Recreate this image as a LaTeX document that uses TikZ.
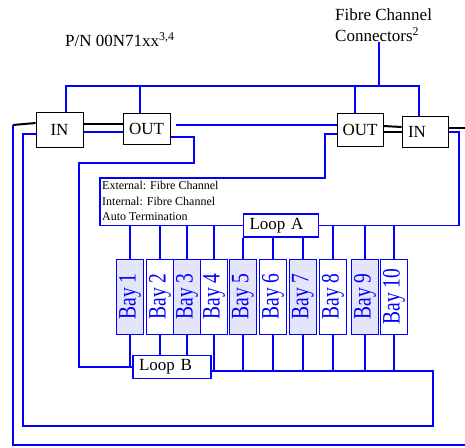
\documentclass[tikz,border=0pt]{standalone}
\usepackage{fontspec}
\setmainfont{Liberation Serif}
\usepackage{graphicx}
\usepackage{tikz}
\pgfdeclarelayer{background}
\pgfsetlayers{background,main}
\definecolor{fcblue}{RGB}{0,0,255}
\definecolor{baylight}{RGB}{228,228,250}
\newcommand{\baytext}[1]{\rotatebox{90}{\scalebox{0.78}[1]{\fontsize{25}{25}\selectfont Bay #1}}}

\begin{document}
\begin{tikzpicture}[x=1pt, y=-1pt,
  every node/.style={font=\fontsize{17}{20}\selectfont},
  port/.style={draw, fill=white, line width=0.8pt, inner sep=0pt},
  loopbox/.style={draw=fcblue, fill=white, line width=1.8pt, inner ysep=0pt, inner xsep=6pt, minimum height=23, align=left},
  bay/.style={draw=fcblue, line width=0.9pt, inner sep=0pt, minimum width=26.5, minimum height=75, text=fcblue},
  bus/.style={fcblue, line width=1.6pt},
  wire/.style={black, line width=2.6pt}]
  \useasboundingbox (0,0) rectangle (465,447);
  % labels
  \node[anchor=north west, inner sep=0pt] (pn) at (65,32) {P/N 00N71xx\textsuperscript{3,4}};
  \node[anchor=north west, inner sep=0pt, align=left, font=\fontsize{17}{21}\selectfont] (fcc) at (335,9) {Fibre Channel\\Connectors\textsuperscript{2}};
  \node[anchor=north west, inner sep=0pt, align=left, font=\fontsize{12}{15.5}\selectfont] (ext) at (102,181) {External: Fibre Channel\\Internal: Fibre Channel\\Auto Termination};
  % connector boxes
  \node[port, minimum width=47, minimum height=35] (inL) at (59.5,129.5) {IN};
  \node[port, minimum width=47, minimum height=31] (outL) at (146.5,128.5) {OUT};
  \node[port, minimum width=46, minimum height=33] (outR) at (360,129.5) {OUT};
  \node[port, minimum width=46, minimum height=31, text width=34, inner xsep=6pt, align=left] (inR) at (425,131.5) {IN};
  % loops
  \node[loopbox, text width=63] (loopA) at (281,225.5) {Loop A};
  \node[loopbox, text width=66] (loopB) at (172,367) {Loop B};
  % bays
  \foreach \n/\x/\c in {1/130/baylight, 2/160/white, 3/187/baylight, 4/214/white, 5/243/baylight,
                        6/273/white, 7/303/baylight, 8/333/white, 9/365/baylight, 10/394/white}
    \node[bay, fill=\c] (bay\n) at (\x,296.5) {\baytext{\n}};

  \coordinate (fcbus) at (379,86);
  \coordinate (outerL) at (13,125);
  \coordinate (edgeB) at (465,445);
  \coordinate (edgeR) at (465,128);
  \coordinate (bLine) at (433,371);

  \begin{pgfonlayer}{background}
  % top bus
  \draw[bus] (fcbus |- fcc.south) -- (fcbus);
  \draw[bus] ([xshift=6.5]inL.north) |- (fcbus) -| ([xshift=-6]inR.north);
  \draw[bus] ([xshift=-6.5]outL.north) -- ++(0,-27);
  \draw[bus] ([xshift=-5]outR.north) -- ++(0,-27);
  % left pair and outer loop
  \draw[wire] ([yshift=5.5]inL.east) -- ([yshift=4.5]outL.west);
  \draw[bus] ([yshift=-2.5]inL.east) -- ([yshift=-3.5]outL.west);
  \draw[wire, line width=2pt] ([yshift=6.5]inL.west) -- (outerL);
  \draw[bus, line width=2pt] (outerL) |- (edgeB);
  \draw[bus] ([yshift=-4.5]inL.west) -| (23,426) -| (bLine) -- ([yshift=-4]loopB.east);
  \draw[bus] ([yshift=-8.5]outL.east) -| (194,163) -| (79,367) -- (loopB.west);
  % OUT to OUT
  \draw[bus, line width=2pt] ([xshift=6pt, yshift=3.5pt]outL.east) -- ([yshift=4.5]outR.west);
  \draw[bus] ([yshift=-4.5]outR.west) -| (325,178) -| (100,225.5) -- (loopA.west);
  % right pair
  \draw[wire, line width=2pt] ([yshift=3.5]outR.east) -- ([yshift=4.5]inR.west);
  \draw[wire, line width=2pt] ([yshift=-2.5]outR.east) -- ([yshift=-0.5]inR.west);
  \draw[wire] ([yshift=3.5]inR.east) -- (edgeR);
  \draw[bus] ([yshift=-0.5]inR.east) -| (459,225.5) -- (loopA.east);
  % bay links
  \foreach \n in {1,2,3,4,8,9,10} \draw[bus] (bay\n.north) -- (bay\n.north |- loopA.west);
  \foreach \n in {5,6,7} \draw[bus] (bay\n.north) -- (bay\n.north |- loopA.south);
  \draw[bus] (bay1.south) -- (bay1.south |- loopB.west);
  \foreach \n in {2,3} \draw[bus] (bay\n.south) -- (bay\n.south |- loopB.north);
  \foreach \n in {4,...,10} \draw[bus] (bay\n.south) -- (bay\n.south |- bLine);
  \end{pgfonlayer}
\end{tikzpicture}
\end{document}
